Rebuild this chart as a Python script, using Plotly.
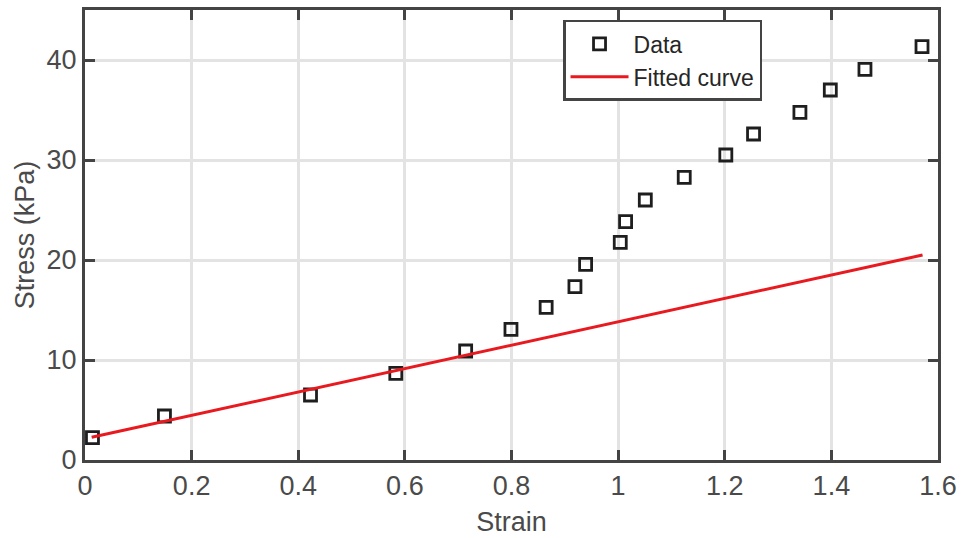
import plotly.graph_objects as go

# Measured data (strain, stress in kPa)
strain = [0.014, 0.149, 0.423, 0.583, 0.714, 0.799, 0.865, 0.919, 0.939, 1.004,
          1.014, 1.051, 1.124, 1.202, 1.254, 1.341, 1.398, 1.463, 1.570]
stress = [2.23, 4.4, 6.5, 8.67, 10.9, 13.07, 15.27, 17.33, 19.57, 21.77,
          23.83, 26.0, 28.27, 30.5, 32.6, 34.77, 37.0, 39.07, 41.33]

# Fitted curve endpoints
fit_strain = [0.0125, 1.571]
fit_stress = [2.27, 20.5]

x_ticks = [0, 0.2, 0.4, 0.6, 0.8, 1.0, 1.2, 1.4, 1.6]
x_tick_labels = ["0", "0.2", "0.4", "0.6", "0.8", "1", "1.2", "1.4", "1.6"]
y_ticks = [0, 10, 20, 30, 40]
y_tick_labels = ["0", "10", "20", "30", "40"]

FONT = "Arial, Liberation Sans, Helvetica, sans-serif"
AXIS_COLOR = "#444444"
GRID_COLOR = "#e3e3e3"
TICK_FONT_COLOR = "#4a4a4a"

fig = go.Figure()
fig.add_trace(go.Scatter(
    x=strain, y=stress, mode="markers", name="Data",
    marker=dict(symbol="square-open", size=12, color="#1e1e1e",
                line=dict(width=2.8, color="#1e1e1e")),
))
fig.add_trace(go.Scatter(
    x=fit_strain, y=fit_stress, mode="lines", name="Fitted curve",
    line=dict(color="#e8191f", width=3),
))

axis_common = dict(
    automargin=False,
    showline=True, linecolor=AXIS_COLOR, linewidth=3, mirror="ticks",
    ticks="inside", ticklen=10, tickwidth=3, tickcolor=AXIS_COLOR,
    showgrid=True, gridcolor=GRID_COLOR, gridwidth=2.5,
    zeroline=False,
    tickfont=dict(family=FONT, size=27, color=TICK_FONT_COLOR),
)

fig.update_xaxes(
    range=[0, 1.6], tickvals=x_ticks, ticktext=x_tick_labels,
    title=dict(text="Strain", font=dict(family=FONT, size=27, color=TICK_FONT_COLOR), standoff=12),
    **axis_common,
)
fig.update_yaxes(
    range=[0, 45], tickvals=y_ticks, ticktext=y_tick_labels,
    title=dict(text="Stress (kPa)", font=dict(family=FONT, size=27, color=TICK_FONT_COLOR), standoff=5),
    **axis_common,
)

fig.update_layout(
    template="none",
    width=961, height=538,
    margin=dict(l=85, r=23, t=10, b=78),
    paper_bgcolor="white", plot_bgcolor="white",
    showlegend=True,
    legend=dict(
        x=0.7937, xanchor="right", y=0.978, yanchor="top",
        bgcolor="white", bordercolor=AXIS_COLOR, borderwidth=2.5,
        font=dict(family=FONT, size=23, color="#262626"),
        tracegroupgap=0, itemwidth=58,
    ),
)

fig.write_html("out.html")
